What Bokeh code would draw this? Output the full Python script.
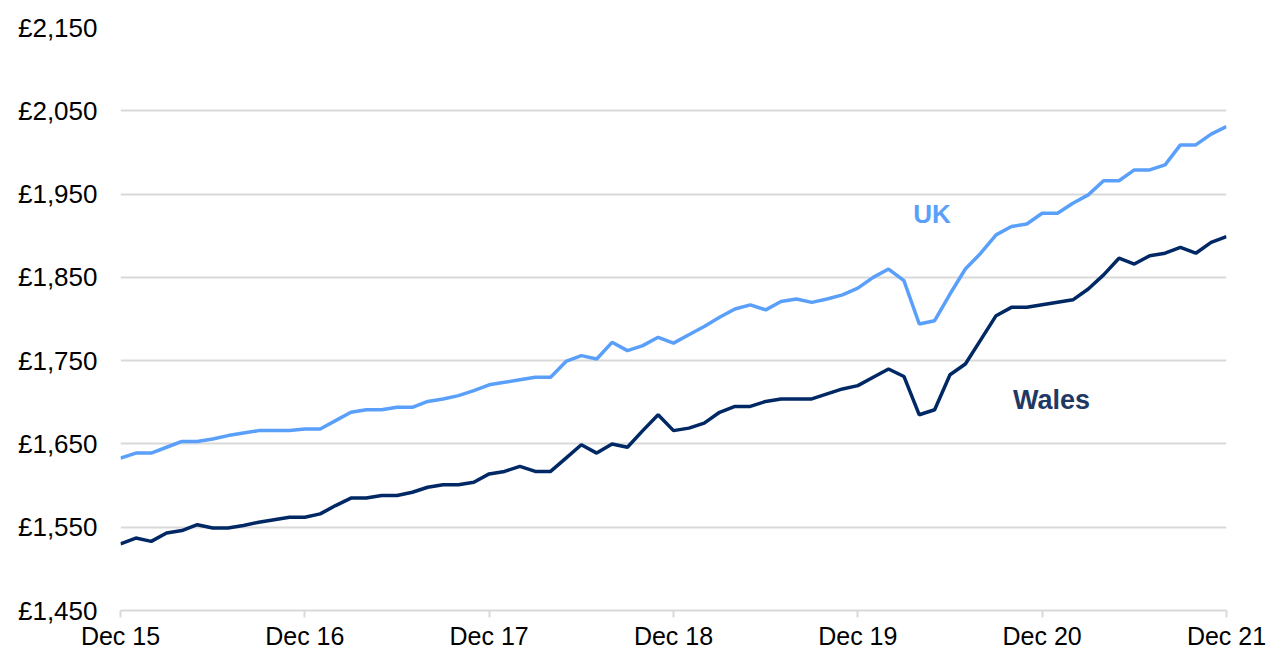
from bokeh.plotting import figure
from bokeh.models import Range1d, FixedTicker, Label
from bokeh.embed import file_html
from bokeh.resources import INLINE

# Monthly data, Dec 2015 .. Dec 2021 (73 months)
months = list(range(73))
uk = [1633, 1639, 1639, 1646, 1653, 1653, 1656, 1660, 1663, 1666, 1666, 1666,
      1668, 1668, 1678, 1688, 1691, 1691, 1694, 1694, 1701, 1704, 1708, 1714,
      1721, 1724, 1727, 1730, 1730, 1749, 1756, 1752, 1772, 1762, 1768, 1778,
      1771, 1781, 1791, 1802, 1812, 1817, 1811, 1821, 1824, 1820, 1824, 1829,
      1837, 1850, 1860, 1846, 1794, 1798, 1830, 1860, 1879, 1901, 1911, 1914,
      1927, 1927, 1939, 1949, 1966, 1966, 1979, 1979, 1985, 2009, 2009, 2022,
      2031]
wales = [1530, 1537, 1533, 1543, 1546, 1553, 1549, 1549, 1552, 1556, 1559, 1562,
         1562, 1566, 1576, 1585, 1585, 1588, 1588, 1592, 1598, 1601, 1601, 1604,
         1614, 1617, 1623, 1617, 1617, 1633, 1649, 1639, 1650, 1646, 1666, 1685,
         1666, 1669, 1675, 1688, 1695, 1695, 1701, 1704, 1704, 1704, 1710, 1716,
         1720, 1730, 1740, 1731, 1685, 1691, 1733, 1746, 1775, 1804, 1814, 1814,
         1817, 1820, 1823, 1836, 1853, 1873, 1866, 1876, 1879, 1886, 1879, 1892,
         1899]
x_ticks = [0, 12, 24, 36, 48, 60, 72]
x_tick_labels = ["Dec 15", "Dec 16", "Dec 17", "Dec 18", "Dec 19", "Dec 20", "Dec 21"]
y_ticks = [1450, 1550, 1650, 1750, 1850, 1950, 2050, 2150]
y_tick_labels = ["£1,450", "£1,550", "£1,650", "£1,750", "£1,850", "£1,950", "£2,050", "£2,150"]

UK_COLOR = "#5AA0FA"
WALES_COLOR = "#002864"
FONT = "Liberation Sans"

p = figure(width=1266, height=652, output_backend="svg", toolbar_location=None,
           x_range=Range1d(0, 72), y_range=Range1d(1450, 2150),
           min_border_left=120, min_border_right=40, min_border_top=27,
           min_border_bottom=42)
p.outline_line_color = None
p.background_fill_color = "white"
p.border_fill_color = "white"

p.xgrid.grid_line_color = None
p.ygrid.grid_line_color = "#D9D9D9"
p.ygrid.grid_line_width = 2

p.xaxis.ticker = FixedTicker(ticks=x_ticks)
p.xaxis.major_label_overrides = {t: l for t, l in zip(x_ticks, x_tick_labels)}
p.xaxis.axis_line_color = "#D9D9D9"
p.xaxis.axis_line_width = 2
p.xaxis.major_tick_line_color = "#D9D9D9"
p.xaxis.major_tick_line_width = 2
p.xaxis.major_tick_in = 0
p.xaxis.major_tick_out = 7
p.xaxis.minor_tick_line_color = None
p.xaxis.major_label_standoff = 4
p.xaxis.major_label_text_font = FONT
p.xaxis.major_label_text_font_size = "25px"
p.xaxis.major_label_text_color = "#000000"

p.yaxis.ticker = FixedTicker(ticks=y_ticks)
p.yaxis.major_label_overrides = {t: l for t, l in zip(y_ticks, y_tick_labels)}
p.yaxis.axis_line_color = None
p.yaxis.major_tick_line_color = None
p.yaxis.minor_tick_line_color = None
p.yaxis.major_tick_in = 0
p.yaxis.major_tick_out = 0
p.yaxis.major_label_standoff = 23
p.yaxis.major_label_text_font = FONT
p.yaxis.major_label_text_font_size = "26px"
p.yaxis.major_label_text_color = "#000000"

p.line(months, uk, line_color=UK_COLOR, line_width=3.5)
p.line(months, wales, line_color=WALES_COLOR, line_width=3.5)

p.add_layout(Label(x=51.6, y=1926, text="UK", text_color=UK_COLOR,
                   text_font=FONT, text_font_style="bold", text_font_size="26px",
                   text_align="left", text_baseline="alphabetic"))
p.add_layout(Label(x=58.1, y=1703, text="Wales", text_color="#1F3864",
                   text_font=FONT, text_font_style="bold", text_font_size="27px",
                   text_align="left", text_baseline="alphabetic"))

open("out.html", "w").write(file_html(p, INLINE))
